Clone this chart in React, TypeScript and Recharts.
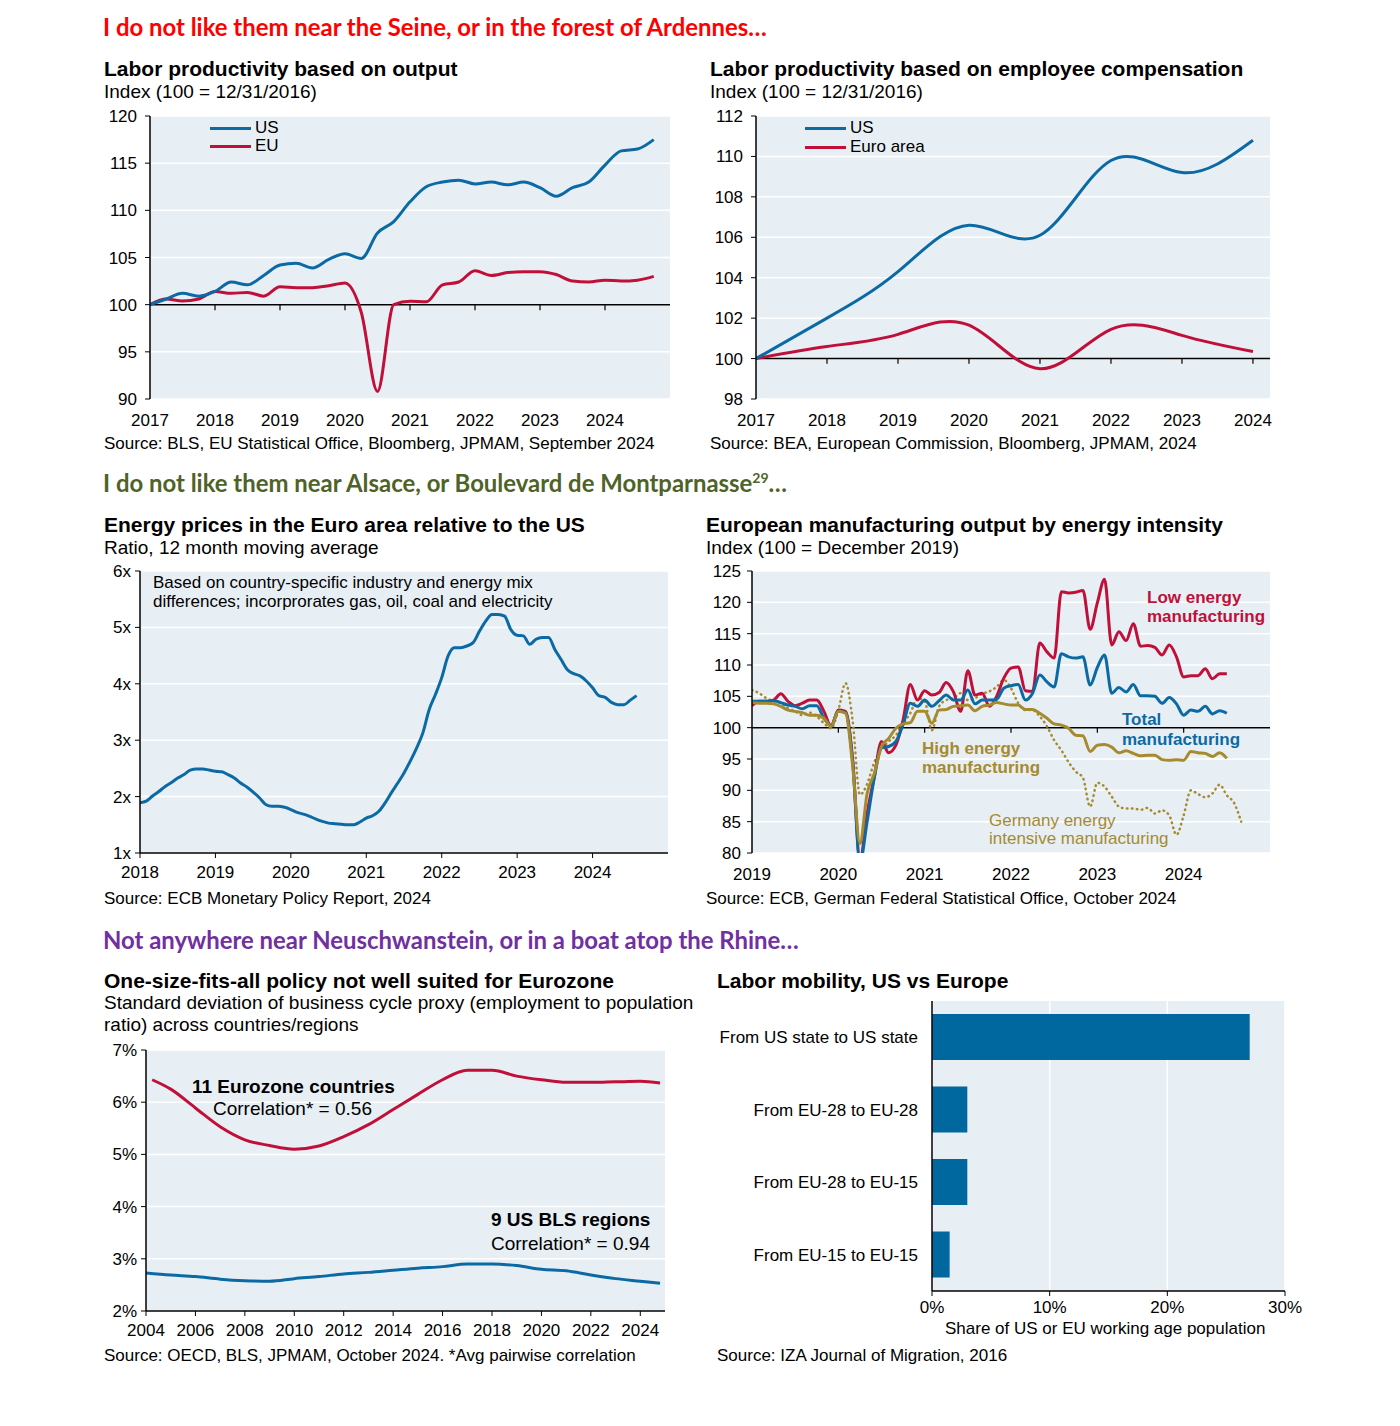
import React from 'react'
import {
  LineChart,
  Line,
  BarChart,
  Bar,
  XAxis,
  YAxis,
  CartesianGrid,
  ReferenceLine,
} from 'recharts'

// ---- palette / fonts ----
const BLUE = '#0B6AA4'
const RED = '#C0103A'
const GOLD = '#A68A2E'
const BAR = '#00679F'
const BG = '#E7EFF5'
const FONT = '"Liberation Sans", Arial, sans-serif'
const HEAD_FONT = 'Lato, "Open Sans", sans-serif'

// ---- 1. Labor productivity based on output (quarterly) ----
const outQuarters = [
  2017, 2017.25, 2017.5, 2017.75, 2018, 2018.25, 2018.5, 2018.75,
  2019, 2019.25, 2019.5, 2019.75, 2020, 2020.25, 2020.5, 2020.75,
  2021, 2021.25, 2021.5, 2021.75, 2022, 2022.25, 2022.5, 2022.75,
  2023, 2023.25, 2023.5, 2023.75, 2024, 2024.25, 2024.5, 2024.75,
]
const outUS = [
  100, 100.6, 101.2, 100.9, 101.4, 102.4, 102.1, 103.1,
  104.2, 104.4, 103.9, 104.8, 105.4, 104.9, 107.6, 108.8,
  110.9, 112.5, 113.0, 113.2, 112.8, 113.0, 112.7, 113.0,
  112.4, 111.5, 112.4, 113.0, 114.8, 116.3, 116.5, 117.5,
]
const outEU = [
  100, 100.6, 100.4, 100.6, 101.4, 101.2, 101.3, 100.9,
  101.9, 101.8, 101.8, 102.0, 102.3, 99.2, 90.8, 100.0,
  100.35, 100.3, 102.1, 102.4, 103.6, 103.1, 103.4, 103.5,
  103.5, 103.2, 102.5, 102.4, 102.6, 102.5, 102.6, 103.0,
]
const outTicks = [2017, 2018, 2019, 2020, 2021, 2022, 2023, 2024]

// ---- 2. Labor productivity based on employee compensation (annual) ----
const compYears = [2017, 2018, 2019, 2020, 2021, 2022, 2023, 2024]
const compUS = [100, 102.0, 104.3, 106.6, 106.1, 109.8, 109.2, 110.8]
const compEuro = [100, 100.6, 101.2, 101.65, 99.5, 101.45, 101.15, 100.35]

// ---- 3. Energy prices Euro area / US (monthly, Jan 2018 - Aug 2024) ----
const energyRatio = [
  1.89, 1.92, 2.01, 2.09, 2.18, 2.25, 2.33, 2.39, 2.47, 2.49, 2.49, 2.47,
  2.45, 2.44, 2.39, 2.33, 2.24, 2.17, 2.08, 1.98, 1.86, 1.83, 1.83, 1.81,
  1.77, 1.72, 1.69, 1.65, 1.6, 1.56, 1.53, 1.52, 1.51, 1.5, 1.5, 1.55,
  1.62, 1.66, 1.74, 1.89, 2.07, 2.24, 2.42, 2.63, 2.86, 3.13, 3.54, 3.81,
  4.11, 4.49, 4.64, 4.64, 4.67, 4.73, 4.93, 5.11, 5.23, 5.23, 5.2, 4.96,
  4.86, 4.85, 4.7, 4.79, 4.82, 4.82, 4.61, 4.43, 4.25, 4.18, 4.14, 4.05,
  3.93, 3.79, 3.76, 3.67, 3.63, 3.63, 3.71, 3.79,
]
const energyTicks = [2018, 2019, 2020, 2021, 2022, 2023, 2024]

// ---- 4. European manufacturing output by energy intensity (monthly from Jan 2019) ----
const mfgLow = [
  103.5, 104.2, 104.2, 104.4, 105.4, 104.2, 103.5, 103.9, 104.4, 104.4, 102.6, 100.2,
  102.8, 102.6, 94.8, 78.9, 86.3, 92.2, 97.8, 96.0, 97.2, 101.2, 106.9, 104.4,
  105.9, 105.2, 105.6, 107.2, 105.7, 102.6, 109.1, 105.2, 105.5, 103.4, 105.0, 107.9,
  109.5, 109.7, 105.9, 105.8, 113.5, 112.1, 111.1, 121.7, 121.5, 121.6, 121.9, 115.7,
  119.9, 123.7, 113.2, 115.3, 113.9, 116.6, 113.0, 113.1, 112.8, 111.6, 113.2, 111.3,
  108.1, 108.3, 108.3, 109.4, 107.8, 108.6, 108.6,
]
const mfgTotal = [
  104.2, 104.2, 104.2, 104.3, 104.0, 103.6, 103.4, 103.0, 103.5, 103.5, 101.5, 100.4,
  102.6, 102.4, 94.5, 78.5, 85.0, 92.0, 96.8, 97.0, 97.8, 100.5, 103.9, 103.4,
  104.4, 103.4, 104.3, 105.2, 104.4, 104.4, 106.0, 103.8, 104.4, 104.4, 104.5, 106.3,
  106.7, 106.9, 104.4, 105.5, 108.4, 107.3, 106.5, 111.8, 111.3, 111.1, 111.3, 106.8,
  109.6, 111.6, 105.5, 106.4, 105.7, 106.9, 105.1, 105.1, 105.0, 103.9, 104.8, 103.8,
  102.0, 102.8, 102.6, 103.4, 102.2, 102.7, 102.3,
]
const mfgHigh = [
  104.0, 103.9, 103.9, 103.8, 103.4, 102.8, 102.6, 102.4, 102.0, 102.0, 101.5, 100.2,
  102.6, 102.3, 93.8, 81.5, 89.5, 92.7, 97.0, 98.3, 99.9, 100.6, 100.8, 102.6,
  102.6, 100.7, 102.8, 102.9, 103.4, 103.5, 103.6, 102.7, 103.4, 103.6, 104.0, 103.8,
  103.6, 103.6, 102.9, 102.9, 102.3, 101.5, 100.6, 100.4, 99.9, 98.8, 98.7, 96.2,
  97.2, 97.3, 96.9, 96.0, 96.3, 95.9, 95.5, 95.6, 95.6, 94.9, 94.8, 94.9,
  94.8, 96.2, 96.0, 95.9, 95.4, 96.0, 95.1,
]
const mfgGermany = [
  106.0, 105.5, 104.7, 104.2, 103.9, 103.1, 102.6, 102.0, 102.4, 101.8, 100.7, 99.9,
  102.8, 107.1, 101.0, 89.3, 91.0, 94.5, 96.5, 97.8, 98.8, 100.7, 102.3, 104.7,
  104.2, 99.6, 103.4, 104.4, 104.7, 105.5, 104.4, 104.7, 105.4, 105.8, 106.5, 107.6,
  106.3, 103.9, 102.8, 102.8, 101.8, 100.2, 98.0, 96.4, 94.5, 93.0, 92.0, 87.4,
  91.2, 90.6, 89.0, 87.4, 87.1, 87.1, 86.9, 87.2, 86.3, 86.8, 86.0, 82.9,
  86.0, 90.0, 89.4, 88.9, 89.5, 90.9, 89.2, 88.0, 85.0,
]
const mfgTicks = [2019, 2020, 2021, 2022, 2023, 2024]

// ---- 5. Business cycle dispersion ----
const euroYears = [
  2004.25, 2005, 2006, 2007, 2008, 2009, 2010, 2011, 2012, 2013, 2014,
  2015, 2016, 2017, 2018, 2019, 2020, 2021, 2022, 2023, 2024, 2024.8,
]
const euroDispersion = [
  6.43, 6.25, 5.89, 5.53, 5.28, 5.17, 5.1, 5.16, 5.34, 5.57, 5.86,
  6.15, 6.43, 6.61, 6.61, 6.5, 6.43, 6.38, 6.38, 6.39, 6.4, 6.37,
]
const usYears = [
  2004, 2005, 2006, 2007, 2008, 2009, 2010, 2011, 2012, 2013, 2014,
  2015, 2016, 2017, 2018, 2019, 2020, 2021, 2022, 2023, 2024, 2024.8,
]
const usDispersion = [
  2.73, 2.69, 2.66, 2.61, 2.58, 2.57, 2.62, 2.66, 2.71, 2.74, 2.78,
  2.82, 2.85, 2.9, 2.9, 2.87, 2.8, 2.77, 2.69, 2.62, 2.57, 2.53,
]
const dispTicks = [2004, 2006, 2008, 2010, 2012, 2014, 2016, 2018, 2020, 2022, 2024]

// ---- 6. Labor mobility ----
const mobilityLabels = [
  'From US state to US state',
  'From EU-28 to EU-28',
  'From EU-28 to EU-15',
  'From EU-15 to EU-15',
]
const mobilityShare = [27, 3, 3, 1.5]

// ---- build rows ----
const monthsFrom = (start: number, n: number) => Array.from({ length: n }, (_, i) => start + i / 12)

const outRows = outQuarters.map((t, i) => ({ t, us: outUS[i], eu: outEU[i] }))
const compRows = compYears.map((t, i) => ({ t, us: compUS[i], euro: compEuro[i] }))
const energyRows = monthsFrom(2018, energyRatio.length).map((t, i) => ({ t, v: energyRatio[i] }))
const mfgRows = monthsFrom(2019, mfgGermany.length).map((t, i) => ({
  t,
  low: mfgLow[i],
  total: mfgTotal[i],
  high: mfgHigh[i],
  de: mfgGermany[i],
}))
const euroRows = euroYears.map((t, i) => ({ t, v: euroDispersion[i] }))
const usRows = usYears.map((t, i) => ({ t, v: usDispersion[i] }))
const mobilityRows = mobilityLabels.map((name, i) => ({ name, v: mobilityShare[i] }))

// ---- shared bits ----
const tickStyle = { fill: '#000', fontSize: 17, fontFamily: FONT }
const axisLine = { stroke: '#000', strokeWidth: 1.5 }

function Txt({ x, y, size = 17, bold = false, color = '#000', family = FONT, children }: any) {
  return (
    <div
      style={{
        position: 'absolute',
        left: x,
        top: y - size * 0.6,
        fontSize: size,
        lineHeight: `${size * 1.2}px`,
        fontWeight: bold ? 700 : 400,
        color,
        fontFamily: family,
        whiteSpace: 'nowrap',
      }}
    >
      {children}
    </div>
  )
}

function LegendKey({ x, y, color, label }: any) {
  return (
    <>
      <div style={{ position: 'absolute', left: x, top: y - 1.5, width: 41, height: 3, background: color }} />
      <Txt x={x + 45} y={y} size={17}>{label}</Txt>
    </>
  )
}

const Place = ({ x, y, children }: any) => (
  <div style={{ position: 'absolute', left: x, top: y }}>{children}</div>
)

const hangTicks = (ticks: number[], at: number, len: number) =>
  ticks.slice(1).map((t) => (
    <ReferenceLine key={`tk${t}`} segment={[{ x: t, y: at }, { x: t, y: at - len }]} stroke="#000" strokeWidth={1.2} />
  ))

export default function App() {
  return (
    <div
      style={{
        position: 'absolute',
        left: 0,
        top: 0,
        width: 1400,
        height: 1426,
        background: '#fff',
        overflow: 'hidden',
        fontFamily: FONT,
      }}
    >
      {/* section headings */}
      <Txt x={103} y={27} size={23.9} bold color="#FF0000" family={HEAD_FONT}>
        I do not like them near the Seine, or in the forest of Ardennes…
      </Txt>
      <Txt x={103} y={483} size={23.9} bold color="#4F6228" family={HEAD_FONT}>
        I do not like them near Alsace, or Boulevard de Montparnasse
        <sup style={{ fontSize: 14, lineHeight: 0 }}>29</sup>…
      </Txt>
      <Txt x={103} y={940} size={23.9} bold color="#7030A0" family={HEAD_FONT}>
        Not anywhere near Neuschwanstein, or in a boat atop the Rhine…
      </Txt>

      {/* ---------- panel 1 ---------- */}
      <Txt x={104} y={69} size={21} bold>Labor productivity based on output</Txt>
      <Txt x={104} y={92} size={19}>Index (100 = 12/31/2016)</Txt>
      <Place x={100} y={100}>
        <LineChart width={590} height={329} data={outRows} margin={{ top: 16, right: 20, bottom: 0, left: 0 }}>
          <CartesianGrid vertical={false} stroke="#fff" strokeWidth={1.5} fill={BG} />
          <XAxis type="number" dataKey="t" domain={[2017, 2025]} ticks={outTicks} interval={0} height={30}
            axisLine={false} tickLine={false} tick={tickStyle} tickMargin={9} allowDataOverflow />
          <YAxis type="number" domain={[90, 120]} ticks={[90, 95, 100, 105, 110, 115, 120]} interval={0} width={50}
            axisLine={axisLine} tickLine={{ stroke: '#000' }} tickSize={5} tick={tickStyle} tickMargin={8} />
          <ReferenceLine y={100} stroke="#000" strokeWidth={1.5} />
          {hangTicks(outTicks, 100, 0.6)}
          <Line type="monotone" dataKey="eu" stroke={RED} strokeWidth={3} dot={false} isAnimationActive={false} />
          <Line type="monotone" dataKey="us" stroke={BLUE} strokeWidth={3} dot={false} isAnimationActive={false} />
        </LineChart>
      </Place>
      <LegendKey x={210} y={128} color={BLUE} label="US" />
      <LegendKey x={210} y={146} color={RED} label="EU" />
      <Txt x={104} y={444}>Source: BLS, EU Statistical Office, Bloomberg, JPMAM, September 2024</Txt>

      {/* ---------- panel 2 ---------- */}
      <Txt x={710} y={69} size={21} bold>Labor productivity based on employee compensation</Txt>
      <Txt x={710} y={92} size={19}>Index (100 = 12/31/2016)</Txt>
      <Place x={706} y={100}>
        <LineChart width={584} height={329} data={compRows} margin={{ top: 16, right: 20, bottom: 0, left: 0 }}>
          <CartesianGrid vertical={false} stroke="#fff" strokeWidth={1.5} fill={BG} />
          <XAxis type="number" dataKey="t" domain={[2017, 2024.24]} ticks={compYears} interval={0} height={30}
            axisLine={false} tickLine={false} tick={tickStyle} tickMargin={9} allowDataOverflow />
          <YAxis type="number" domain={[98, 112]} ticks={[98, 100, 102, 104, 106, 108, 110, 112]} interval={0} width={50}
            axisLine={axisLine} tickLine={{ stroke: '#000' }} tickSize={5} tick={tickStyle} tickMargin={8} />
          <ReferenceLine y={100} stroke="#000" strokeWidth={1.5} />
          {hangTicks(compYears, 100, 0.25)}
          <Line type="natural" dataKey="euro" stroke={RED} strokeWidth={3} dot={false} isAnimationActive={false} />
          <Line type="natural" dataKey="us" stroke={BLUE} strokeWidth={3} dot={false} isAnimationActive={false} />
        </LineChart>
      </Place>
      <LegendKey x={805} y={128} color={BLUE} label="US" />
      <LegendKey x={805} y={147} color={RED} label="Euro area" />
      <Txt x={710} y={444}>Source: BEA, European Commission, Bloomberg, JPMAM, 2024</Txt>

      {/* ---------- panel 3 ---------- */}
      <Txt x={104} y={525} size={21} bold>Energy prices in the Euro area relative to the US</Txt>
      <Txt x={104} y={548} size={19}>Ratio, 12 month moving average</Txt>
      <Place x={90} y={555}>
        <LineChart width={598} height={328} data={energyRows} margin={{ top: 16, right: 20, bottom: 0, left: 0 }}>
          <CartesianGrid vertical={false} stroke="#fff" strokeWidth={1.5} fill={BG} />
          <XAxis type="number" dataKey="t" domain={[2018, 2025]} ticks={energyTicks} interval={0} height={30}
            axisLine={axisLine} tickLine={{ stroke: '#000' }} tickSize={5} tick={tickStyle} tickMargin={8} allowDataOverflow />
          <YAxis type="number" domain={[1, 6]} ticks={[1, 2, 3, 4, 5, 6]} interval={0} width={50}
            tickFormatter={(v: number) => `${v}x`}
            axisLine={axisLine} tickLine={{ stroke: '#000' }} tickSize={5} tick={tickStyle} tickMargin={4} />
          <Line type="monotone" dataKey="v" stroke={BLUE} strokeWidth={3} dot={false} isAnimationActive={false} />
        </LineChart>
      </Place>
      <Txt x={153} y={583}>Based on country-specific industry and energy mix</Txt>
      <Txt x={153} y={602}>differences; incorprorates gas, oil, coal and electricity</Txt>
      <Txt x={104} y={899}>Source: ECB Monetary Policy Report, 2024</Txt>

      {/* ---------- panel 4 ---------- */}
      <Txt x={706} y={525} size={21} bold>European manufacturing output by energy intensity</Txt>
      <Txt x={706} y={548} size={19}>Index (100 = December 2019)</Txt>
      <Place x={702} y={555}>
        <LineChart width={588} height={328} data={mfgRows} margin={{ top: 16, right: 20, bottom: 0, left: 0 }}>
          <CartesianGrid vertical={false} stroke="#fff" strokeWidth={1.5} fill={BG} />
          <XAxis type="number" dataKey="t" domain={[2019, 2025]} ticks={mfgTicks} interval={0} height={30}
            axisLine={false} tickLine={false} tick={tickStyle} tickMargin={9} allowDataOverflow />
          <YAxis type="number" domain={[80, 125]} ticks={[80, 85, 90, 95, 100, 105, 110, 115, 120, 125]} interval={0} width={50}
            allowDataOverflow
            axisLine={axisLine} tickLine={{ stroke: '#000' }} tickSize={5} tick={tickStyle} tickMargin={6} />
          <ReferenceLine y={100} stroke="#000" strokeWidth={1.5} />
          {hangTicks(mfgTicks, 100, 0.8)}
          <Line type="monotone" dataKey="de" stroke={GOLD} strokeWidth={2.5} strokeDasharray="0.5 4.5" strokeLinecap="round"
            dot={false} isAnimationActive={false} />
          <Line type="monotone" dataKey="low" stroke={RED} strokeWidth={3} dot={false} isAnimationActive={false} />
          <Line type="monotone" dataKey="total" stroke={BLUE} strokeWidth={3} dot={false} isAnimationActive={false} />
          <Line type="monotone" dataKey="high" stroke={GOLD} strokeWidth={3} dot={false} isAnimationActive={false} />
        </LineChart>
      </Place>
      <Txt x={1147} y={598} bold color={RED}>Low energy</Txt>
      <Txt x={1147} y={617} bold color={RED}>manufacturing</Txt>
      <Txt x={1122} y={720} bold color={BLUE}>Total</Txt>
      <Txt x={1122} y={740} bold color={BLUE}>manufacturing</Txt>
      <Txt x={922} y={749} bold color={GOLD}>High energy</Txt>
      <Txt x={922} y={768} bold color={GOLD}>manufacturing</Txt>
      <Txt x={989} y={821} color={GOLD}>Germany energy</Txt>
      <Txt x={989} y={839} color={GOLD}>intensive manufacturing</Txt>
      <Txt x={706} y={899}>Source: ECB, German Federal Statistical Office, October 2024</Txt>

      {/* ---------- panel 5 ---------- */}
      <Txt x={104} y={981} size={21} bold>One-size-fits-all policy not well suited for Eurozone</Txt>
      <Txt x={104} y={1003} size={19}>Standard deviation of business cycle proxy (employment to population</Txt>
      <Txt x={104} y={1025} size={19}>ratio) across countries/regions</Txt>
      <Place x={96} y={1034}>
        <LineChart width={589} height={307} margin={{ top: 16, right: 20, bottom: 0, left: 0 }}>
          <CartesianGrid vertical={false} stroke="#fff" strokeWidth={1.5} fill={BG} />
          <XAxis type="number" dataKey="t" domain={[2004, 2025]} ticks={dispTicks} interval={0} height={30}
            axisLine={axisLine} tickLine={{ stroke: '#000' }} tickSize={5} tick={tickStyle} tickMargin={8} allowDataOverflow />
          <YAxis type="number" domain={[2, 7]} ticks={[2, 3, 4, 5, 6, 7]} interval={0} width={50}
            tickFormatter={(v: number) => `${v}%`}
            axisLine={axisLine} tickLine={{ stroke: '#000' }} tickSize={5} tick={tickStyle} tickMargin={4} />
          <Line data={euroRows} type="monotone" dataKey="v" stroke={RED} strokeWidth={3} dot={false} isAnimationActive={false} />
          <Line data={usRows} type="monotone" dataKey="v" stroke={BLUE} strokeWidth={3} dot={false} isAnimationActive={false} />
        </LineChart>
      </Place>
      <Txt x={192} y={1087} size={19} bold>11 Eurozone countries</Txt>
      <Txt x={213} y={1109} size={19}>Correlation* = 0.56</Txt>
      <Txt x={491} y={1220} size={19} bold>9 US BLS regions</Txt>
      <Txt x={491} y={1244} size={19}>Correlation* = 0.94</Txt>
      <Txt x={104} y={1356}>Source: OECD, BLS, JPMAM, October 2024. *Avg pairwise correlation</Txt>

      {/* ---------- panel 6 ---------- */}
      <Txt x={717} y={981} size={21} bold>Labor mobility, US vs Europe</Txt>
      <Place x={700} y={991}>
        <BarChart layout="vertical" width={620} height={350} data={mobilityRows} margin={{ top: 10, right: 35, bottom: 0, left: 0 }}>
          <CartesianGrid horizontal={false} stroke="#fff" strokeWidth={1.5} fill={BG} />
          <XAxis type="number" domain={[0, 30]} ticks={[0, 10, 20, 30]} interval={0} height={50}
            tickFormatter={(v: number) => `${v}%`}
            axisLine={axisLine} tickLine={{ stroke: '#000' }} tickSize={5} tick={tickStyle} tickMargin={5} />
          <YAxis type="category" dataKey="name" width={232} interval={0}
            axisLine={axisLine} tickLine={false} tick={{ ...tickStyle, fontSize: 17 }} tickMargin={8} />
          <Bar dataKey="v" fill={BAR} barSize={46} isAnimationActive={false} />
        </BarChart>
      </Place>
      <Txt x={945} y={1329} size={17}>Share of US or EU working age population</Txt>
      <Txt x={717} y={1356}>Source: IZA Journal of Migration, 2016</Txt>
    </div>
  )
}
